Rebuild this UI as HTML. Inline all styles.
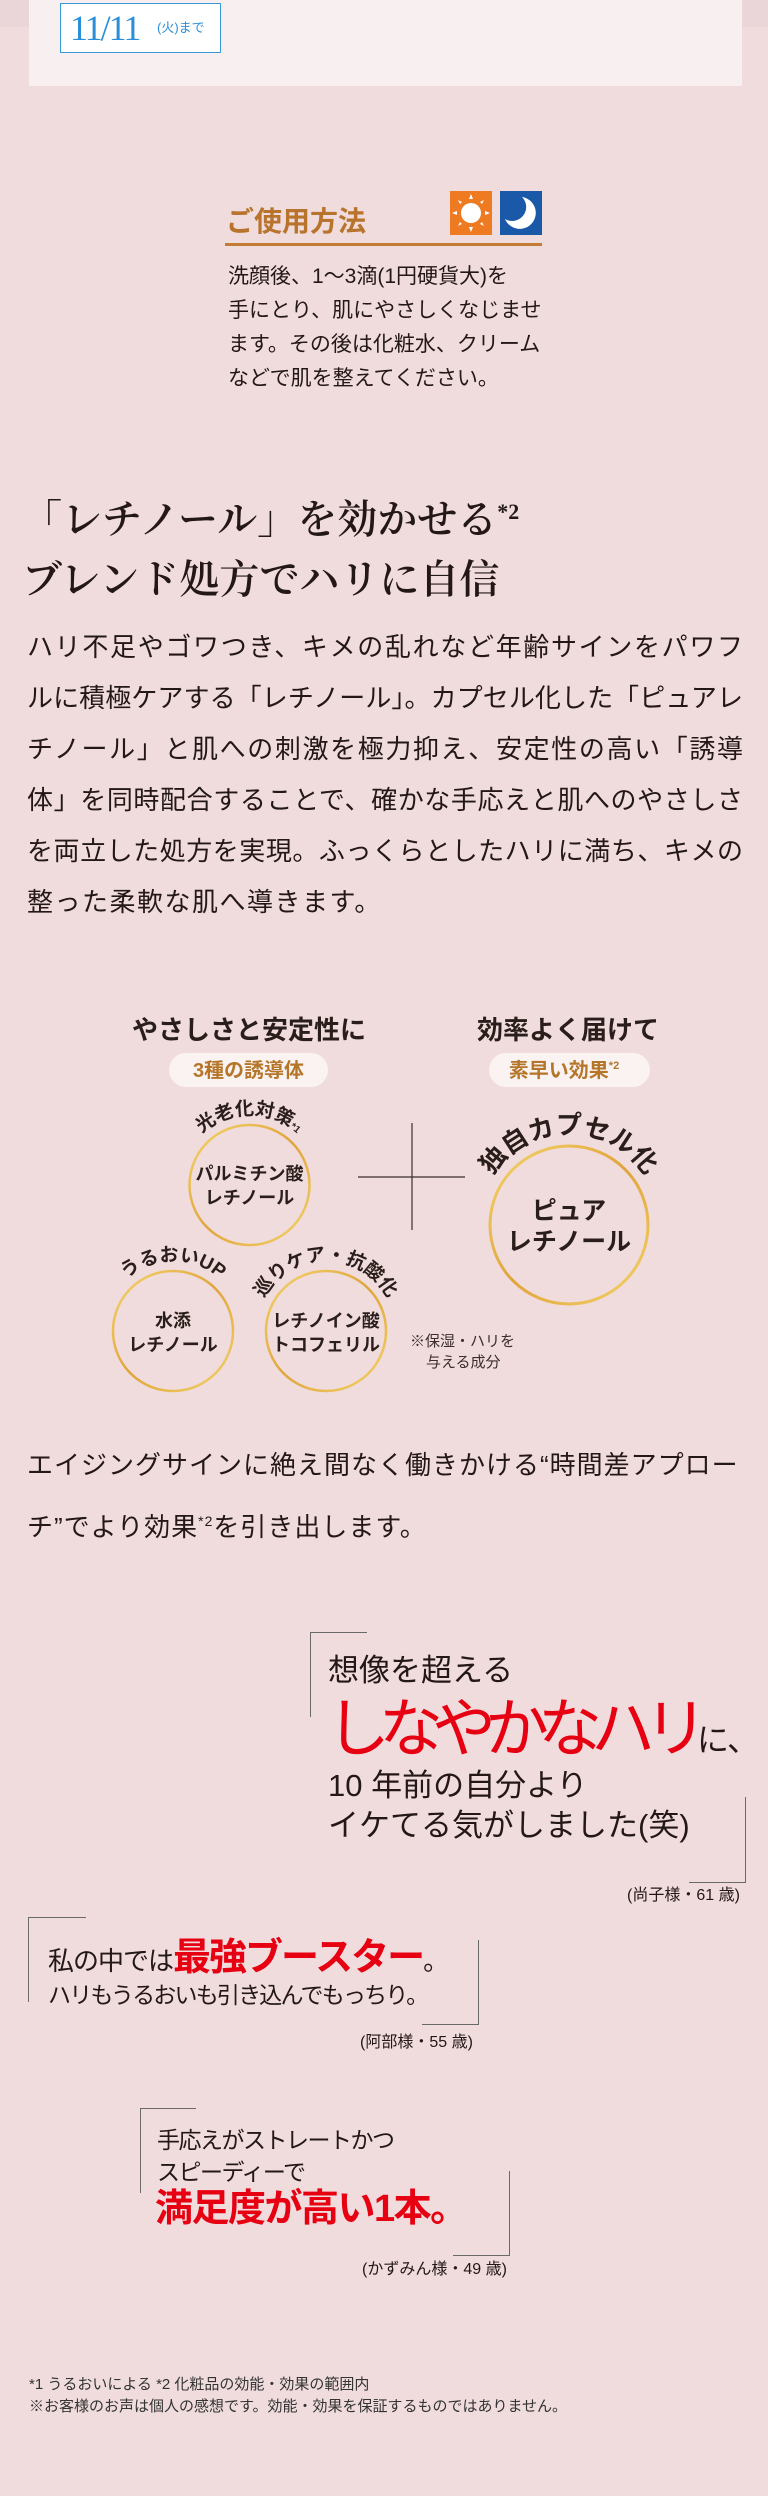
<!DOCTYPE html>
<html><head><meta charset="utf-8">
<style>
*{margin:0;padding:0;box-sizing:border-box}
body{width:768px;height:2496px;background:#f0dcdd;position:relative;overflow:hidden;font-family:"Liberation Sans","Noto Sans CJK JP",sans-serif;color:#231815}
.a{position:absolute;white-space:nowrap}
.body{font-size:26px;line-height:51px}
.j{display:block;width:716px;text-align:justify;text-align-last:justify;text-justify:inter-character;white-space:normal;height:51px;overflow:visible}
.ln{position:absolute;background:#6a6a6a}
</style></head><body>
<div class="a" style="left:0;top:0;width:768px;height:27px;background:#ead6d8"></div>
<div class="a" style="left:29px;top:0;width:713px;height:86px;background:#f8f0f0"></div>
<div class="a" style="left:60px;top:3px;width:161px;height:50px;border:1.5px solid #3a9ad9;background:#fff"></div>
<div class="a" style="left:70px;top:8px;color:#2a8fd8;font-family:'Liberation Serif',serif;font-size:36px;letter-spacing:-2px;line-height:40px">11/11</div>
<div class="a" style="left:157px;top:20px;color:#2a8fd8;font-size:13px;line-height:16px">(火)まで</div>

<!-- usage -->
<div class="a" style="left:226px;top:204px;font-size:28px;font-weight:bold;color:#b8742c;line-height:36px">ご使用方法</div>
<svg class="a" style="left:450px;top:191px" width="93" height="45" viewBox="0 0 93 45">
<rect x="0" y="0" width="42" height="44" fill="#ee7a22"/>
<circle cx="21" cy="22" r="10" fill="#fff"/>
<g fill="#fff"><polygon points="21,3 19,8 23,8"/><polygon points="21,41 19,36 23,36"/><polygon points="2,22 7,20 7,24"/><polygon points="40,22 35,20 35,24"/><polygon points="8,9 12,11 10,13"/><polygon points="34,9 30,11 32,13"/><polygon points="8,35 12,33 10,31"/><polygon points="34,35 30,33 32,31"/></g>
<rect x="50" y="0" width="42" height="44" fill="#1a58a8"/>
<path d="M72 6 A16 16 0 1 1 55 28 A14 14 0 0 0 72 6Z" fill="#fff"/>
</svg>
<div class="a" style="left:225px;top:243px;width:317px;height:3px;background:#c27c34"></div>
<div class="a" style="left:228px;top:260px;font-size:21px;line-height:34px;color:#231815">洗顔後、1～3滴(1円硬貨大)を<br>手にとり、肌にやさしくなじませ<br>ます。その後は化粧水、クリーム<br>などで肌を整えてください。</div>

<!-- headline -->
<div class="a" style="left:22px;top:482px;font-family:'Liberation Serif','Noto Serif CJK SC',serif;font-weight:600;font-size:40px;line-height:60px;color:#231815">「レチノール」を効かせる<span style="font-size:22px;vertical-align:14px">*2</span><br>ブレンド処方でハリに自信</div>

<div class="a body" style="left:27px;top:622px">
<div class="j">ハリ不足やゴワつき、キメの乱れなど年齢サインをパワフ</div>
<div class="j">ルに積極ケアする「レチノール」。カプセル化した「ピュアレ</div>
<div class="j">チノール」と肌への刺激を極力抑え、安定性の高い「誘導</div>
<div class="j">体」を同時配合することで、確かな手応えと肌へのやさしさ</div>
<div class="j">を両立した処方を実現。ふっくらとしたハリに満ち、キメの</div>
<div style="letter-spacing:1.5px;height:51px">整った柔軟な肌へ導きます。</div>
</div>

<!-- diagram -->
<svg class="a" style="left:0;top:0" width="768" height="1420" viewBox="0 0 768 1420">
<defs>
<linearGradient id="g" x1="0" y1="0" x2="1" y2="1"><stop offset="0" stop-color="#f3d66c"/><stop offset="0.5" stop-color="#e0a43c"/><stop offset="1" stop-color="#f2d46a"/></linearGradient>
<path id="p1" d="M179.5 1185 A70 70 0 0 1 319.5 1185"/>
<path id="p2" d="M103 1331 A70 70 0 0 1 243 1331"/>
<path id="p3" d="M256 1331 A70 70 0 0 1 396 1331"/>
<path id="p4" d="M478 1225 A91 91 0 0 1 660 1225"/>
</defs>
<g font-family="'Liberation Sans','Noto Sans CJK JP',sans-serif" font-weight="bold" fill="#2a1e1a">
<text x="249" y="1039" font-size="26" text-anchor="middle">やさしさと安定性に</text>
<text x="568" y="1039" font-size="26" text-anchor="middle">効率よく届けて</text>
<rect x="169" y="1053" width="159" height="34" rx="17" fill="#fbf3f2"/>
<rect x="489" y="1053" width="161" height="34" rx="17" fill="#fbf3f2"/>
<text x="248.5" y="1077" font-size="20" text-anchor="middle" fill="#b5762a">3種の誘導体</text>
<text x="564" y="1077" font-size="20" text-anchor="middle" fill="#b5762a">素早い効果<tspan font-size="11" dy="-8">*2</tspan></text>
<circle cx="249.5" cy="1185" r="60" fill="none" stroke="url(#g)" stroke-width="2.5"/>
<circle cx="173" cy="1331" r="60" fill="none" stroke="url(#g)" stroke-width="2.5"/>
<circle cx="326" cy="1331" r="60" fill="none" stroke="url(#g)" stroke-width="2.5"/>
<circle cx="569" cy="1225" r="79" fill="none" stroke="url(#g)" stroke-width="3"/>
<text font-size="19"><textPath href="#p1" startOffset="50%" text-anchor="middle">光老化対策<tspan font-size="10">*1</tspan></textPath></text>
<text font-size="19"><textPath href="#p2" startOffset="50%" text-anchor="middle">うるおいUP</textPath></text>
<text font-size="19"><textPath href="#p3" startOffset="50%" text-anchor="middle">巡りケア・抗酸化</textPath></text>
<text font-size="26"><textPath href="#p4" startOffset="50%" text-anchor="middle">独自カプセル化</textPath></text>
<text x="249.5" y="1180" font-size="18" text-anchor="middle">パルミチン酸</text>
<text x="249.5" y="1204" font-size="18" text-anchor="middle">レチノール</text>
<text x="173" y="1327" font-size="18" text-anchor="middle">水添</text>
<text x="173" y="1351" font-size="18" text-anchor="middle">レチノール</text>
<text x="326" y="1327" font-size="18" text-anchor="middle">レチノイン酸</text>
<text x="326" y="1351" font-size="18" text-anchor="middle">トコフェリル</text>
<text x="569" y="1219" font-size="25" text-anchor="middle">ピュア</text>
<text x="569" y="1250" font-size="25" text-anchor="middle">レチノール</text>
</g>
<line x1="358" y1="1177" x2="465" y2="1177" stroke="#3a2e2a" stroke-width="1.2"/>
<line x1="412" y1="1123" x2="412" y2="1230" stroke="#3a2e2a" stroke-width="1.2"/>
<text x="410" y="1346" font-size="15" fill="#3a2e2a" font-family="'Liberation Sans','Noto Sans CJK JP',sans-serif">※保湿・ハリを</text>
<text x="426" y="1367" font-size="15" fill="#3a2e2a" font-family="'Liberation Sans','Noto Sans CJK JP',sans-serif">与える成分</text>
</svg>

<div class="a body" style="left:27px;top:1437px;line-height:56px;letter-spacing:1px">エイジングサインに絶え間なく働きかける“時間差アプロー<br>チ”でより効果<span style="font-size:14px;vertical-align:10px">*2</span>を引き出します。</div>

<!-- quote 1 -->
<div class="ln" style="left:310px;top:1632px;width:57px;height:1px"></div>
<div class="ln" style="left:310px;top:1632px;width:1px;height:85px"></div>
<div class="a" style="left:328px;top:1652px;font-size:31px;line-height:38px">想像を超える</div>
<div class="a" style="left:326px;top:1694px;font-size:64px;line-height:70px;color:#e60012;letter-spacing:-11px">しなやかなハリ<span style="font-size:32px;color:#231815;letter-spacing:-1px">に、</span></div>
<div class="a" style="left:328px;top:1766px;font-size:31px;line-height:40px">10 年前の自分より<br>イケてる気がしました(笑)</div>
<div class="ln" style="left:745px;top:1797px;width:1px;height:85px"></div>
<div class="ln" style="left:689px;top:1882px;width:57px;height:1px"></div>
<div class="a" style="left:627px;top:1885px;font-size:16px;line-height:22px">(尚子様・61 歳)</div>

<!-- quote 2 -->
<div class="ln" style="left:28px;top:1917px;width:58px;height:1px"></div>
<div class="ln" style="left:28px;top:1917px;width:1px;height:85px"></div>
<div class="a" style="left:48px;top:1940px;font-size:26px;line-height:36px;letter-spacing:-1px">私の中では<span style="font-size:38px;color:#e60012;font-weight:bold;letter-spacing:-2px">最強ブースター</span>。</div>
<div class="a" style="left:48px;top:1980px;font-size:23px;line-height:30px;letter-spacing:-1.8px">ハリもうるおいも引き込んでもっちり。</div>
<div class="ln" style="left:478px;top:1940px;width:1px;height:84px"></div>
<div class="ln" style="left:422px;top:2024px;width:57px;height:1px"></div>
<div class="a" style="left:360px;top:2032px;font-size:16px;line-height:22px">(阿部様・55 歳)</div>

<!-- quote 3 -->
<div class="ln" style="left:140px;top:2108px;width:56px;height:1px"></div>
<div class="ln" style="left:140px;top:2108px;width:1px;height:85px"></div>
<div class="a" style="left:157px;top:2124px;font-size:23px;line-height:32px;letter-spacing:-1.5px">手応えがストレートかつ<br>スピーディーで</div>
<div class="a" style="left:155px;top:2186px;font-size:38px;line-height:46px;color:#e60012;font-weight:bold;letter-spacing:-1.5px">満足度が高い1本。</div>
<div class="ln" style="left:509px;top:2171px;width:1px;height:84px"></div>
<div class="ln" style="left:453px;top:2255px;width:57px;height:1px"></div>
<div class="a" style="left:362px;top:2259px;font-size:16px;line-height:22px">(かずみん様・49 歳)</div>

<div class="a" style="left:29px;top:2374px;font-size:15px;line-height:22px;color:#333">*1 うるおいによる *2 化粧品の効能・効果の範囲内<br>※お客様のお声は個人の感想です。効能・効果を保証するものではありません。</div>
</body></html>
